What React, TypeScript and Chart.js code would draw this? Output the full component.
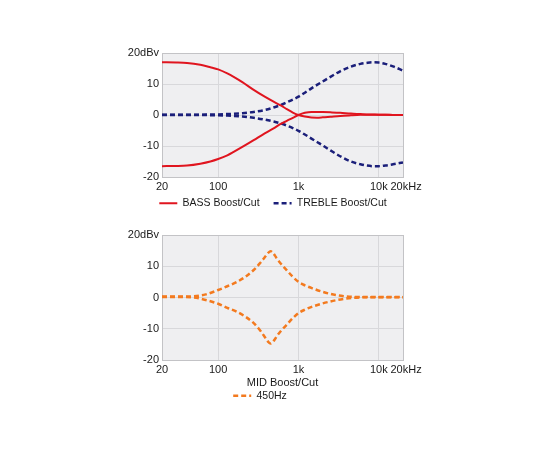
import React, { useEffect, useRef } from "react";
import { Chart, registerables } from "chart.js";

Chart.register(...registerables);

// ---------- data ----------
const TOP_FREQS = [20, 30, 41, 60, 80, 100, 130, 156, 200, 277, 380, 490, 600, 716, 850, 1000, 1200, 1450, 1700, 2000, 2500, 3300, 4500, 5900, 7000, 8400, 10000, 12000, 15000, 20000];
const BASS_BOOST = [17.0, 16.95, 16.8, 16.2, 15.4, 14.7, 13.4, 12.3, 10.6, 8.1, 5.9, 4.3, 3.1, 1.9, 0.8, 0.0, -0.5, -0.8, -0.85, -0.75, -0.55, -0.3, -0.1, 0.05, 0.1, 0.1, 0.1, 0.05, 0.02, 0.0];
const BASS_CUT = [-16.5, -16.45, -16.3, -15.7, -15.0, -14.2, -13.0, -11.9, -10.3, -8.1, -5.9, -4.3, -2.9, -1.9, -0.9, 0.0, 0.7, 1.0, 1.0, 0.95, 0.85, 0.7, 0.45, 0.3, 0.2, 0.15, 0.1, 0.08, 0.04, 0.0];
const TREBLE_BOOST = [0.1, 0.1, 0.1, 0.1, 0.15, 0.2, 0.3, 0.4, 0.6, 1.0, 1.6, 2.4, 3.2, 4.1, 5.0, 5.9, 7.2, 8.6, 9.7, 10.8, 12.3, 14.1, 15.6, 16.5, 16.8, 17.0, 16.9, 16.5, 15.7, 14.3];
const TREBLE_CUT = [0.0, 0.0, 0.0, 0.0, -0.05, -0.1, -0.2, -0.3, -0.5, -0.9, -1.5, -2.1, -2.7, -3.4, -4.2, -5.1, -6.3, -7.6, -8.7, -9.8, -11.4, -13.3, -15.0, -15.9, -16.3, -16.5, -16.5, -16.3, -15.9, -15.3];

const MID_FREQS = [20, 30, 50, 70, 100, 130, 172, 220, 277, 330, 368, 400, 420, 450, 480, 510, 540, 600, 716, 850, 1000, 1200, 1500, 2000, 2900, 3800, 4800, 7000, 10000, 20000];
const MID_BOOST = [0.3, 0.3, 0.4, 1.0, 2.4, 3.6, 5.0, 6.7, 8.8, 10.9, 12.4, 13.6, 14.3, 14.8, 14.3, 13.4, 12.4, 10.9, 8.7, 6.6, 5.0, 3.9, 2.9, 1.8, 0.8, 0.4, 0.2, 0.2, 0.2, 0.2];
const MID_CUT = [0.2, 0.2, 0.0, -0.8, -2.0, -3.3, -4.6, -6.2, -8.2, -10.4, -12.1, -13.4, -14.2, -14.7, -14.2, -13.3, -12.3, -10.8, -8.7, -6.6, -5.0, -3.9, -2.9, -1.9, -0.9, -0.4, -0.1, 0.1, 0.1, 0.1];

const X_TICKS = [20, 100, 1000, 10000, 20000];
const X_TICK_LABELS = ["20", "100", "1k", "10k", "  20kHz"];
const Y_TICKS = [-20, -10, 0, 10, 20];
const Y_TICK_LABELS = ["-20", "-10", "0", "10", "20dBv"];

const TOP_LABELS = ["BASS Boost/Cut", "TREBLE Boost/Cut"];
const MID_TITLE = "MID Boost/Cut";
const MID_LABEL = "450Hz";

// ---------- style ----------
const FONT = "'Liberation Sans', Arial, Helvetica, sans-serif";
const RED = "#e0151f";
const NAVY = "#1b1f7a";
const ORANGE = "#f37a1f";
const TEXT = "#1a1a1a";
const PLOT_BG = "#efeff1";
const GRID = "#d8d8db";
const EDGE = "#c3c3c6";

const plotBg = {
  id: "plotBg",
  beforeDraw(chart: any) {
    const { ctx, chartArea: a } = chart;
    ctx.save();
    ctx.fillStyle = PLOT_BG;
    ctx.fillRect(a.left, a.top, a.right - a.left, a.bottom - a.top);
    ctx.restore();
  },
};

// shifts the legend box after layout
const legendNudge = {
  id: "legendNudge",
  afterLayout(chart: any, _args: any, opts: any) {
    const l = chart.legend;
    if (!l) return;
    const dx = (opts && opts.dx) || 0;
    const dy = (opts && opts.dy) || 0;
    l.left += dx;
    l.right += dx;
    l.top += dy;
    l.bottom += dy;
  },
};

const pts = (xs: number[], ys: number[]) => xs.map((x, i) => ({ x, y: ys[i] }));

function makeScales(yWidth: number, xHeight: number, xTitle: string | null) {
  return {
    x: {
      type: "logarithmic",
      min: 20,
      max: 20000,
      afterBuildTicks: (s: any) => {
        s.ticks = X_TICKS.map((v) => ({ value: v }));
      },
      afterFit: (s: any) => {
        s.height = xHeight;
        s.paddingLeft = 0;
        s.paddingRight = 0;
      },
      ticks: {
        autoSkip: false,
        maxRotation: 0,
        minRotation: 0,
        padding: 3,
        color: TEXT,
        font: { family: FONT, size: 11 },
        callback: (_v: any, i: number) => X_TICK_LABELS[i],
      },
      grid: {
        drawTicks: false,
        lineWidth: 1,
        color: (c: any) =>
          c.tick && (c.tick.value === 20 || c.tick.value === 20000) ? EDGE : GRID,
      },
      border: { display: true, color: EDGE, width: 1 },
      title: xTitle
        ? {
            display: true,
            text: xTitle,
            color: TEXT,
            font: { family: FONT, size: 11 },
            padding: { top: 0, bottom: -3 },
          }
        : { display: false },
    },
    y: {
      type: "linear",
      min: -20,
      max: 20,
      afterBuildTicks: (s: any) => {
        s.ticks = Y_TICKS.map((v) => ({ value: v }));
      },
      afterFit: (s: any) => {
        s.width = yWidth;
        s.paddingTop = 0;
        s.paddingBottom = 0;
      },
      ticks: {
        padding: 3,
        color: TEXT,
        font: { family: FONT, size: 11 },
        callback: (_v: any, i: number) => Y_TICK_LABELS[i],
      },
      grid: {
        drawTicks: false,
        lineWidth: 1,
        color: (c: any) =>
          c.tick && (c.tick.value === 20 || c.tick.value === -20) ? EDGE : GRID,
      },
      border: { display: true, color: EDGE, width: 1 },
    },
  };
}

function legendOpts(padding: number) {
  return {
    display: true,
    position: "bottom",
    fullSize: true,
    labels: {
      usePointStyle: true,
      pointStyle: "line",
      pointStyleWidth: 18,
      padding,
      color: TEXT,
      font: { family: FONT, size: 10.5 },
      generateLabels: (chart: any) => {
        const base = (Chart as any).defaults.plugins.legend.labels.generateLabels(chart);
        return base.map((item: any) => {
          const ds = chart.data.datasets[item.datasetIndex];
          return {
            ...item,
            lineDash: ds.borderDash || [],
            lineWidth: ds.borderWidth,
            strokeStyle: ds.borderColor,
            pointStyle: "line",
          };
        });
      },
      filter: (item: any) => !String(item.text).startsWith("_"),
    },
  };
}

function useChart(ref: React.RefObject<HTMLCanvasElement>, build: () => any) {
  useEffect(() => {
    if (!ref.current) return;
    const chart = new Chart(ref.current, build());
    return () => chart.destroy();
  }, []);
}

const line = (label: string, xs: number[], ys: number[], color: string, width: number, dash: number[] | null) => ({
  label,
  data: pts(xs, ys),
  borderColor: color,
  backgroundColor: color,
  borderWidth: width,
  borderDash: dash || [],
  pointRadius: 0,
  cubicInterpolationMode: "monotone",
});

export default function App() {
  const topRef = useRef<HTMLCanvasElement>(null);
  const midRef = useRef<HTMLCanvasElement>(null);

  useChart(topRef, () => ({
    type: "line",
    data: {
      datasets: [
        line(TOP_LABELS[0], TOP_FREQS, BASS_BOOST, RED, 2, null),
        line(TOP_LABELS[1], TOP_FREQS, TREBLE_BOOST, NAVY, 2.5, [5, 3]),
        line("_bassCut", TOP_FREQS, BASS_CUT, RED, 2, null),
        line("_trebleCut", TOP_FREQS, TREBLE_CUT, NAVY, 2.5, [5, 3]),
      ],
    },
    options: {
      responsive: false,
      animation: false,
      devicePixelRatio: 1,
      layout: { padding: { left: 0, right: 57, top: 13, bottom: 0 } },
      scales: makeScales(62, 17.5, null),
      plugins: {
        legend: legendOpts(14),
        legendNudge: { dx: 21.5, dy: -10.5 },
        tooltip: { enabled: false },
      },
    },
    plugins: [plotBg, legendNudge],
  }));

  useChart(midRef, () => ({
    type: "line",
    data: {
      datasets: [
        line(MID_LABEL, MID_FREQS, MID_BOOST, ORANGE, 2.5, [5, 3]),
        line("_midCut", MID_FREQS, MID_CUT, ORANGE, 2.5, [5, 3]),
      ],
    },
    options: {
      responsive: false,
      animation: false,
      devicePixelRatio: 1,
      layout: { padding: { left: 17, right: 57, top: 15, bottom: 0 } },
      scales: makeScales(45, 26.5, MID_TITLE),
      plugins: {
        legend: legendOpts(4),
        tooltip: { enabled: false },
      },
    },
    plugins: [plotBg],
  }));

  return (
    <div style={{ position: "absolute", left: 0, top: 0, width: 550, height: 450, background: "#fff" }}>
      <canvas
        ref={topRef}
        width={360}
        height={189}
        style={{ position: "absolute", left: 100, top: 40, width: 360, height: 189 }}
      />
      <canvas
        ref={midRef}
        width={360}
        height={191}
        style={{ position: "absolute", left: 100, top: 220, width: 360, height: 191 }}
      />
    </div>
  );
}
